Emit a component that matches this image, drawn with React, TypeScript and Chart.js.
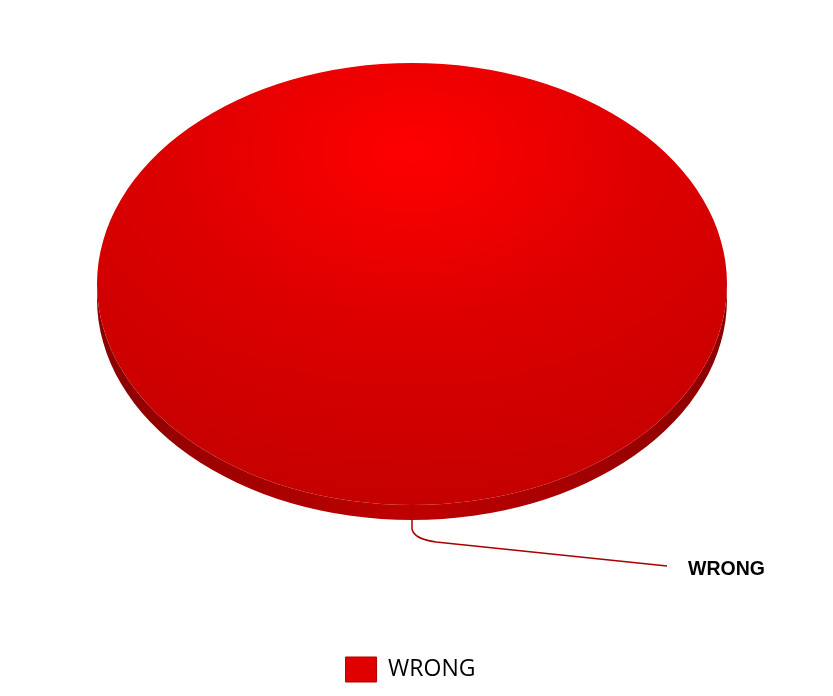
import React, { useEffect, useRef } from "react";
import { Chart, registerables } from "chart.js";

Chart.register(...registerables);

const categories = ["WRONG"];
const values = [100];
const sliceColors = ["#e00000"];

const TARGET = { cx: 404, cy: 276, rx: 315, ry: 221, depth: 15 };

const pie3d = {
  id: "pie3d",
  beforeDatasetsDraw(chart: any) {
    const ctx = chart.ctx;
    const { cx, cy, rx, ry, depth } = TARGET;
    const arc = chart.getDatasetMeta(0).data[0];
    if (!arc) return;
    ctx.save();
    const g = ctx.createLinearGradient(cx - rx, 0, cx + rx, 0);
    g.addColorStop(0, "#8a0000");
    g.addColorStop(0.5, "#c00000");
    g.addColorStop(1, "#8a0000");
    ctx.beginPath();
    ctx.ellipse(cx, cy + depth, rx, ry, 0, 0, Math.PI);
    ctx.lineTo(cx - rx, cy);
    ctx.ellipse(cx, cy, rx, ry, 0, Math.PI, 0, true);
    ctx.closePath();
    ctx.fillStyle = g;
    ctx.fill();
    ctx.strokeStyle = "rgba(230,60,60,0.5)";
    ctx.lineWidth = 1;
    ctx.beginPath();
    ctx.moveTo(cx, cy + ry);
    ctx.lineTo(cx, cy + ry + depth);
    ctx.stroke();
    ctx.restore();
    const r = arc.outerRadius;
    ctx.save();
    ctx.translate(cx, cy);
    ctx.scale(rx / r, ry / r);
    ctx.translate(-arc.x, -arc.y);
  },
  afterDatasetsDraw(chart: any) {
    const ctx = chart.ctx;
    const arc = chart.getDatasetMeta(0).data[0];
    if (!arc) return;
    ctx.restore();
    const { cx, cy, ry } = TARGET;
    ctx.save();
    ctx.strokeStyle = "#a80000";
    ctx.lineWidth = 1.5;
    ctx.beginPath();
    ctx.moveTo(cx, cy + ry);
    ctx.lineTo(cx, cy + ry + 24);
    ctx.quadraticCurveTo(cx + 2, cy + ry + 34, cx + 24, cy + ry + 37);
    ctx.lineTo(cx + 255, cy + ry + 61);
    ctx.stroke();
    ctx.fillStyle = "#000";
    ctx.font = "bold 19.5px 'Liberation Sans', Arial, sans-serif";
    ctx.textBaseline = "middle";
    ctx.textAlign = "left";
    ctx.fillText(categories[0], cx + 276, cy + ry + 65);
    ctx.restore();
  },
};

export default function App() {
  const ref = useRef<HTMLCanvasElement>(null);
  useEffect(() => {
    if (!ref.current) return;
    const chart = new Chart(ref.current, {
      type: "pie",
      data: {
        labels: categories,
        datasets: [
          {
            data: values,
            borderWidth: 0,
            backgroundColor: (c: any) => {
              const area = c.chart.chartArea;
              if (!area) return sliceColors[c.dataIndex];
              const x = (area.left + area.right) / 2;
              const y = (area.top + area.bottom) / 2;
              const r = Math.min(area.right - area.left, area.bottom - area.top) / 2;
              const g = c.chart.ctx.createRadialGradient(
                x, y - 0.6 * r, 0, x, y - 0.6 * r, 1.7 * r
              );
              g.addColorStop(0, "#ff0000");
              g.addColorStop(0.45, "#dd0000");
              g.addColorStop(1, "#c20000");
              return g;
            },
          },
        ],
      },
      options: {
        animation: false,
        responsive: false,
        rotation: 180,
        layout: { padding: { top: 20, bottom: 0, right: 12 } },
        plugins: {
          tooltip: { enabled: false },
          legend: {
            position: "bottom",
            labels: {
              boxWidth: 31,
              boxHeight: 25,
              padding: 10,
              color: "#555",
              font: { family: "'Open Sans', sans-serif", size: 23 },
              generateLabels: () =>
                categories.map((name, i) => ({
                  text: name,
                  fillStyle: sliceColors[i],
                  strokeStyle: "#b00000",
                  lineWidth: 1,
                  hidden: false,
                  index: i,
                })),
            },
          },
        },
      },
      plugins: [pie3d],
    });
    return () => chart.destroy();
  }, []);
  return <canvas ref={ref} width={817} height={684} style={{ display: "block" }} />;
}
